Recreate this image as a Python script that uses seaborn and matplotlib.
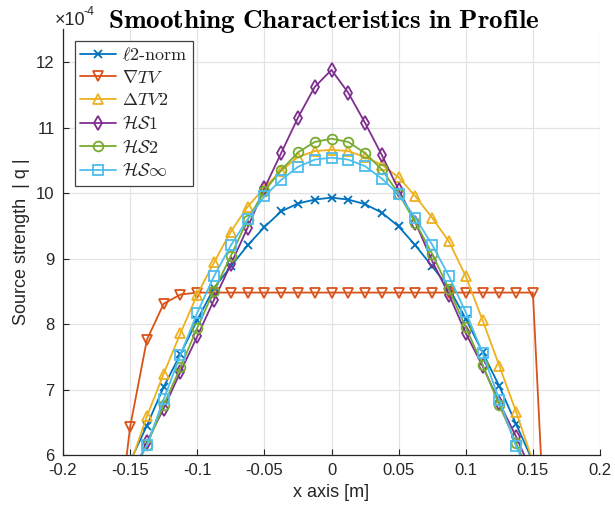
import numpy as np
import pandas as pd
import matplotlib
matplotlib.use("Agg")
import matplotlib.pyplot as plt
import seaborn as sns

# sample positions along the profile [m]
x_pos = [-0.15, -0.1375, -0.125, -0.1125, -0.1, -0.0875, -0.075, -0.0625, -0.05,
         -0.0375, -0.025, -0.0125, 0.0, 0.0125, 0.025, 0.0375, 0.05, 0.0625,
         0.075, 0.0875, 0.1, 0.1125, 0.125, 0.1375, 0.15]
x_pos_tv = [-0.1625] + x_pos + [0.1625]

# source strength, units of 1e-4
q_l2 = [5.9, 6.45, 7.04, 7.54, 8.06, 8.55, 8.88, 9.20, 9.48, 9.72, 9.84, 9.90, 9.93,
        9.90, 9.83, 9.70, 9.49, 9.20, 8.88, 8.55, 8.08, 7.57, 7.05, 6.47, 5.9]
q_tv = [4.3, 6.43, 7.76, 8.31, 8.45, 8.48, 8.48, 8.48, 8.48, 8.48, 8.48, 8.48, 8.48, 8.48,
        8.48, 8.48, 8.48, 8.48, 8.48, 8.48, 8.48, 8.48, 8.48, 8.48, 8.48, 8.48, 3.3]
q_tv2 = [5.85, 6.59, 7.24, 7.86, 8.45, 8.94, 9.41, 9.79, 10.08, 10.34, 10.55, 10.64, 10.66,
         10.64, 10.55, 10.43, 10.24, 9.95, 9.62, 9.26, 8.73, 8.06, 7.36, 6.66, 5.9]
q_hs1 = [5.6, 6.20, 6.71, 7.27, 7.81, 8.37, 8.91, 9.47, 10.07, 10.61, 11.15, 11.62, 11.88,
         11.53, 11.07, 10.58, 10.05, 9.55, 8.96, 8.45, 7.86, 7.36, 6.80, 6.28, 5.7]
q_hs2 = [5.65, 6.15, 6.76, 7.34, 7.94, 8.51, 9.04, 9.59, 10.03, 10.35, 10.62, 10.78, 10.83,
         10.78, 10.61, 10.36, 9.99, 9.55, 9.07, 8.53, 7.95, 7.38, 6.76, 6.18, 5.6]
q_hsinf = [5.7, 6.15, 6.85, 7.53, 8.17, 8.73, 9.20, 9.60, 9.95, 10.20, 10.40, 10.51, 10.54,
           10.51, 10.41, 10.22, 9.98, 9.62, 9.21, 8.73, 8.18, 7.56, 6.84, 6.13, 5.6]

labels = [r'$\ell2\text{-norm}$', r'$\nabla TV$', r'$\Delta TV2$',
          r'$\mathcal{HS}1$', r'$\mathcal{HS}2$', r'$\mathcal{HS}\infty$']
colors = ['#0072BD', '#D95319', '#EDB120', '#7E2F8E', '#77AC30', '#4DBEEE']
markers = ['x', 'v', '^', 'd', 'o', 's']

x_ticks = [-0.2, -0.15, -0.1, -0.05, 0, 0.05, 0.1, 0.15, 0.2]
y_ticks = [6, 7, 8, 9, 10, 11, 12]

sns.set_theme(style="whitegrid")
plt.rcParams['font.family'] = ['Liberation Sans', 'DejaVu Sans']
plt.rcParams['mathtext.fontset'] = 'cm'
plt.rcParams['axes.unicode_minus'] = False

fig = plt.figure(figsize=(6.15, 5.15), dpi=100)
fig.patch.set_facecolor('white')
ax = fig.add_axes([63/615, 60/515, 537/615, 425.7/515])

msize = {'x': 6, 'v': 7.5, '^': 7.5, 'd': 7, 'o': 7, 's': 6.5}
series = [(x_pos, q_l2), (x_pos_tv, q_tv), (x_pos, q_tv2),
          (x_pos, q_hs1), (x_pos, q_hs2), (x_pos, q_hsinf)]
for (xs, ys), lab, c, m in zip(series, labels, colors, markers):
	sns.lineplot(
		x=xs, y=ys, ax=ax, label=lab, color=c,
		marker=m, markersize=msize[m],
		markerfacecolor='none', markeredgecolor=c, markeredgewidth=1.3,
		linewidth=1.3, estimator=None, sort=False,
	)

ax.set_xlim(-0.2, 0.2)
ax.set_ylim(6, 12.5)
ax.set_xticks(x_ticks)
ax.set_xticklabels(['%g' % t for t in x_ticks])
ax.set_yticks(y_ticks)
ax.set_yticklabels(['%g' % t for t in y_ticks])
ax.grid(True, color='#e3e3e3', linewidth=0.9)
ax.set_facecolor('white')
for s in ['top', 'right']:
	ax.spines[s].set_visible(False)
for s in ['left', 'bottom']:
	ax.spines[s].set_color('#262626')
	ax.spines[s].set_linewidth(0.9)
ax.tick_params(direction='in', length=4, width=0.8, color='#262626',
               labelsize=12, labelcolor='#262626', pad=6,
               bottom=True, left=True)

ax.set_xlabel('x axis [m]', fontsize=13, color='#262626', labelpad=4)
ax.set_ylabel('Source strength  | q |', fontsize=13, color='#262626', labelpad=4)
ax.set_title(r'$\mathbf{Smoothing\ Characteristics\ in\ Profile}$',
             fontsize=19.5, color='black', pad=1, x=0.485)

fig.text(55/615, 1 - 25/515, '\u00d710', fontsize=13, color='#262626', va='baseline')
fig.text(84/615, 1 - 15/515, '-4', fontsize=9, color='#262626', va='baseline')

leg = ax.legend(loc='upper left', bbox_to_anchor=(0.022, 0.972), fontsize=13,
                frameon=True, fancybox=False, framealpha=1, edgecolor='#404040',
                handlelength=2.0, handletextpad=0.3, labelspacing=0.31,
                borderpad=0.3, borderaxespad=0)
leg.get_frame().set_linewidth(0.9)

fig.savefig('out.png', dpi=100, facecolor='white')
